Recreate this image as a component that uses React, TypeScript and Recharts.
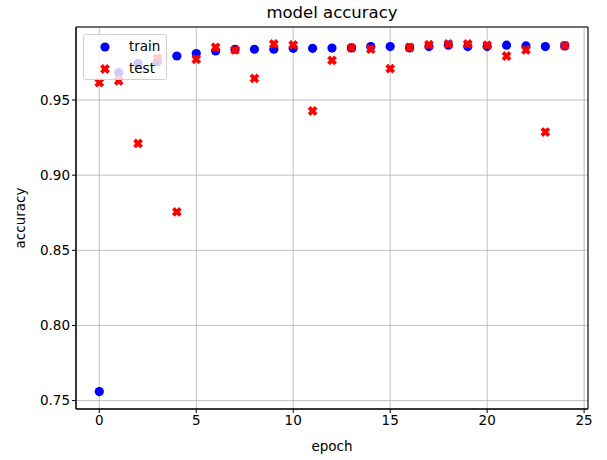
import {
  CartesianGrid,
  ReferenceArea,
  Scatter,
  ScatterChart,
  XAxis,
  YAxis,
  Label,
} from "recharts";

const epochs = [
  0, 1, 2, 3, 4, 5, 6, 7, 8, 9, 10, 11, 12, 13, 14, 15, 16, 17, 18, 19, 20, 21,
  22, 23, 24,
];
const trainAcc = [
  0.756, 0.9682, 0.9744, 0.9756, 0.9793, 0.9809, 0.9827, 0.9838, 0.9838,
  0.9838, 0.9844, 0.9844, 0.9846, 0.9847, 0.9856, 0.9856, 0.9847, 0.9856,
  0.9865, 0.9856, 0.9856, 0.9865, 0.986, 0.9856, 0.986,
];
const testAcc = [
  0.9616, 0.9627, 0.9211, 0.9778, 0.8756, 0.9771, 0.9851, 0.9833, 0.9644,
  0.9873, 0.9867, 0.9427, 0.9764, 0.9847, 0.9838, 0.9709, 0.9851, 0.9869,
  0.9873, 0.9873, 0.9865, 0.9793, 0.9833, 0.9287, 0.9862,
];
const xTicks = [0, 5, 10, 15, 20, 25];
const yTicks = [0.75, 0.8, 0.85, 0.9, 0.95];

const trainData = epochs.map((e, i) => ({ epoch: e, acc: trainAcc[i] }));
const testData = epochs.map((e, i) => ({ epoch: e, acc: testAcc[i] }));

const X_MIN = -1.2;
const X_MAX = 25.2;
const Y_MIN = 0.7444;
const Y_MAX = 0.9986;

const FONT = "DejaVu Sans, sans-serif";

function xPoints(L: number, a: number) {
  return [
    [-a, -L], [a, -L], [a, -a], [L, -a], [L, a], [a, a],
    [a, L], [-a, L], [-a, a], [-L, a], [-L, -a], [-a, -a],
  ]
    .map((p) => p.join(","))
    .join(" ");
}

function XMarker(props: any) {
  const { cx, cy } = props;
  if (cx == null || cy == null) return null;
  return (
    <polygon
      points={xPoints(5, 1.9)}
      transform={`translate(${cx},${cy}) rotate(45)`}
      fill="#ff0000"
    />
  );
}

function Dot(props: any) {
  const { cx, cy } = props;
  if (cx == null || cy == null) return null;
  return <circle cx={cx} cy={cy} r={4.6} fill="#0000ff" />;
}

export default function App() {
  return (
    <div
      style={{
        position: "absolute",
        left: 0,
        top: 0,
        width: 607,
        height: 460,
        background: "#fff",
        fontFamily: FONT,
      }}
    >
      <div
        style={{
          position: "absolute",
          top: 3,
          left: 76,
          width: 512,
          textAlign: "center",
          fontSize: 16.5,
          color: "#000",
        }}
      >
        model accuracy
      </div>
      <ScatterChart
        width={607}
        height={460}
        margin={{ top: 27, right: 19, bottom: 21, left: 16 }}
      >
        <CartesianGrid stroke="#b0b0b0" strokeWidth={0.8} />
        <XAxis
          type="number"
          dataKey="epoch"
          domain={[X_MIN, X_MAX]}
          ticks={xTicks}
          allowDataOverflow
          height={30}
          stroke="#000"
          tickSize={4}
          tick={{ fill: "#000", fontSize: 13.5, fontFamily: FONT }}
        >
          <Label
            value="epoch"
            position="insideBottom"
            offset={-12}
            style={{ fill: "#000", fontSize: 13.5, fontFamily: FONT }}
          />
        </XAxis>
        <YAxis
          type="number"
          dataKey="acc"
          domain={[Y_MIN, Y_MAX]}
          ticks={yTicks}
          allowDataOverflow
          width={60}
          stroke="#000"
          tickSize={4}
          tickFormatter={(v) => v.toFixed(2)}
          tick={{ fill: "#000", fontSize: 13.5, fontFamily: FONT }}
        >
          <Label
            value="accuracy"
            angle={-90}
            position="insideLeft"
            offset={4}
            style={{
              fill: "#000",
              fontSize: 13.5,
              fontFamily: FONT,
              textAnchor: "middle",
            }}
          />
        </YAxis>
        <ReferenceArea
          x1={X_MIN}
          x2={X_MAX}
          y1={Y_MIN}
          y2={Y_MAX}
          fill="none"
          stroke="#000"
          strokeWidth={1}
          ifOverflow="visible"
        />
        <Scatter
          name="train"
          data={trainData}
          shape={<Dot />}
          isAnimationActive={false}
        />
        <Scatter
          name="test"
          data={testData}
          shape={<XMarker />}
          isAnimationActive={false}
        />
      </ScatterChart>
      <div
        style={{
          position: "absolute",
          left: 83,
          top: 34,
          width: 84,
          height: 46,
          boxSizing: "border-box",
          border: "1px solid #d0d0d0",
          borderRadius: 3,
          background: "rgba(255,255,255,0.8)",
          fontSize: 13.5,
          color: "#000",
        }}
      >
        <svg
          width={20}
          height={46}
          style={{ position: "absolute", left: 11, top: 0 }}
        >
          <circle cx={10} cy={12} r={4.6} fill="#0000ff" />
          <polygon
            points={xPoints(5, 1.9)}
            transform="translate(10,34) rotate(45)"
            fill="#ff0000"
          />
        </svg>
        <div style={{ position: "absolute", left: 45, top: 3 }}>train</div>
        <div style={{ position: "absolute", left: 45, top: 25 }}>test</div>
      </div>
    </div>
  );
}
